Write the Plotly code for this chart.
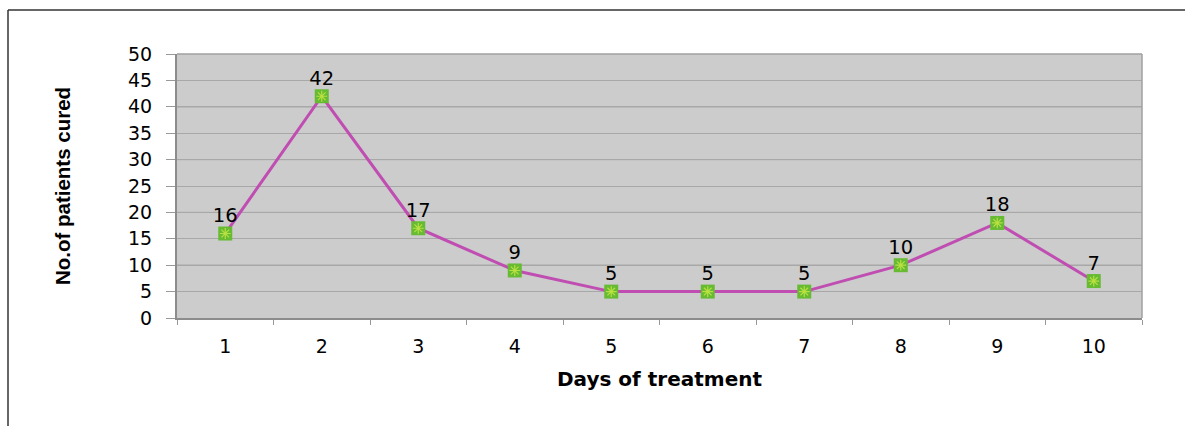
import plotly.graph_objects as go

days = ["1", "2", "3", "4", "5", "6", "7", "8", "9", "10"]
patients_cured = [16, 42, 17, 9, 5, 5, 5, 10, 18, 7]
y_ticks = [0, 5, 10, 15, 20, 25, 30, 35, 40, 45, 50]

W, H = 1185, 426
L, R, T, B = 177, 1142, 54, 318

def px(x):
    return (x - L) / (R - L)

def py(y):
    return (B - y) / (B - T)

WIDE = "DejaVu Sans"

fig = go.Figure()
fig.add_trace(go.Scatter(
    x=days, y=patients_cured, mode="lines+markers",
    line=dict(color="#C04DB2", width=3),
    marker=dict(symbol="square", size=14, color="#66BB33", line=dict(width=0)),
    cliponaxis=False, hoverinfo="skip", showlegend=False,
))
fig.add_trace(go.Scatter(
    x=days, y=patients_cured, mode="markers+text",
    marker=dict(symbol="asterisk-open", size=9, color="#B8E040",
                line=dict(color="#B8E040", width=1.2)),
    text=[str(v) for v in patients_cured], textposition="top center",
    textfont=dict(family=WIDE, size=19.5, color="#000000"),
    hoverinfo="skip", showlegend=False, cliponaxis=False,
))

fig.update_layout(
    width=W, height=H,
    margin=dict(l=L, r=W - R, t=T, b=H - B, pad=0),
    paper_bgcolor="white", plot_bgcolor="#CCCCCC",
    font=dict(family=WIDE, color="#000000", size=19),
    xaxis=dict(
        type="category", range=[-0.5, 9.5], tickson="boundaries",
        ticks="outside", ticklen=5, tickcolor="#999999", tickwidth=1,
        showgrid=False, showline=True, linecolor="#8C8C8C", linewidth=2,
        tickfont=dict(family=WIDE, size=19), zeroline=False, mirror=False,
        ticklabelstandoff=10,
        title=dict(text="<b>Days of treatment</b>",
                   font=dict(family=WIDE, size=20), standoff=16),
        fixedrange=True,
    ),
    yaxis=dict(
        range=[0, 50], tickvals=y_ticks, ticks="outside", ticklen=9,
        tickcolor="#999999", tickwidth=1,
        showgrid=True, gridcolor="#A8A8A8", gridwidth=1,
        showline=True, linecolor="#8C8C8C", linewidth=2, zeroline=False,
        tickfont=dict(family=WIDE, size=19), ticklabelstandoff=10,
        title=dict(text="<b>No.of patients cured</b>",
                   font=dict(family="Liberation Sans", size=20.5), standoff=52),
        fixedrange=True,
    ),
    shapes=[
        dict(type="line", xref="paper", yref="paper", x0=0, x1=1, y0=1, y1=1,
             line=dict(color="#A0A0A0", width=1.5)),
        dict(type="line", xref="paper", yref="paper", x0=1, x1=1, y0=0, y1=1,
             line=dict(color="#A0A0A0", width=1.5)),
        dict(type="line", xref="paper", yref="paper", x0=px(8), x1=px(1186),
             y0=py(10), y1=py(10), line=dict(color="#333333", width=1.5)),
        dict(type="line", xref="paper", yref="paper", x0=px(8), x1=px(8),
             y0=py(10), y1=py(427), line=dict(color="#333333", width=1.5)),
    ],
)
for v in [10, 20, 30, 40]:
    fig.add_shape(type="line", xref="paper", yref="y", x0=0, x1=1, y0=v, y1=v,
                  line=dict(color="#8E8E8E", width=1), layer="below")

fig.write_html("out.html", config={"displayModeBar": False},
               post_script="document.body.style.margin='0';document.body.style.overflow='hidden';")
